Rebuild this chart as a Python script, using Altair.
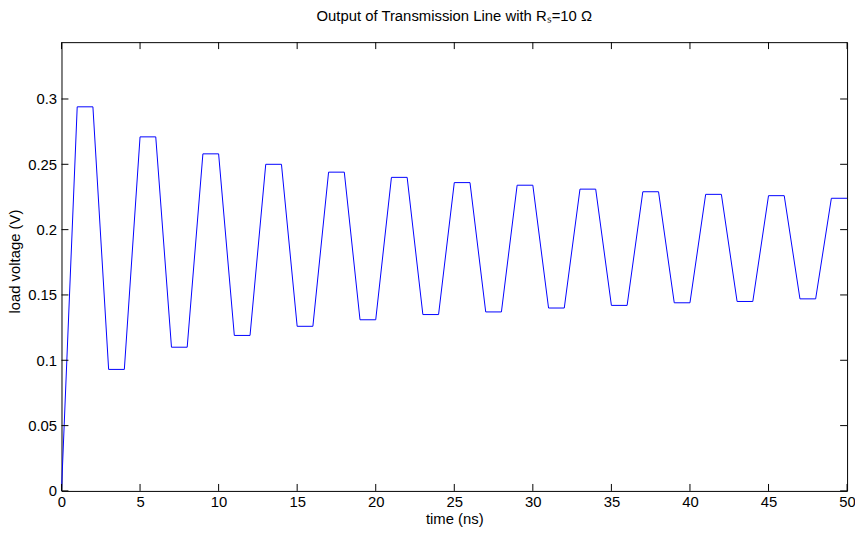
import altair as alt
import pandas as pd

# Corner points of the load-voltage waveform (time in ns, voltage in V)
time_ns = [0, 1, 2, 3, 4, 5, 6, 7, 8, 9, 10, 11, 12, 13, 14, 15, 16, 17, 18, 19, 20,
           21, 22, 23, 24, 25, 26, 27, 28, 29, 30, 31, 32, 33, 34, 35, 36, 37, 38, 39, 40,
           41, 42, 43, 44, 45, 46, 47, 48, 49, 50]
load_v = [0.0,
          0.294, 0.294, 0.093, 0.093,
          0.271, 0.271, 0.110, 0.110,
          0.258, 0.258, 0.119, 0.119,
          0.250, 0.250, 0.126, 0.126,
          0.244, 0.244, 0.131, 0.131,
          0.240, 0.240, 0.135, 0.135,
          0.236, 0.236, 0.137, 0.137,
          0.234, 0.234, 0.140, 0.140,
          0.231, 0.231, 0.142, 0.142,
          0.229, 0.229, 0.144, 0.144,
          0.227, 0.227, 0.145, 0.145,
          0.226, 0.226, 0.147, 0.147,
          0.224, 0.224]

x_ticks = [0, 5, 10, 15, 20, 25, 30, 35, 40, 45, 50]
y_ticks = [0, 0.05, 0.1, 0.15, 0.2, 0.25, 0.3]

W, H = 793, 453
TICK = 7
FONT = "Liberation Sans"
FS = 15

df = pd.DataFrame({"t": time_ns, "v": load_v})
xt = pd.DataFrame({"t": x_ticks})
yt = pd.DataFrame({"v": y_ticks})

xscale = alt.Scale(domain=[0, 50], nice=False, zero=False)
yscale = alt.Scale(domain=[0, 0.3435], nice=False, zero=False)

x_axis = alt.Axis(values=x_ticks, title="time (ns)", format="d", labelFlush=False,
                  labelPadding=4, titleY=33, titleBaseline="alphabetic")
y_axis = alt.Axis(values=y_ticks, title="load voltage (V)", format=".2~f",
                  titleX=-42, titleY=221, titleBaseline="alphabetic")

X = alt.X("t:Q", scale=xscale, axis=x_axis)
Y = alt.Y("v:Q", scale=yscale, axis=y_axis)

line = alt.Chart(df).mark_line(color="#0000ff", strokeWidth=1).encode(x=X, y=Y)

bottom_ticks = alt.Chart(xt).mark_rule(color="black", strokeWidth=1).encode(
    x=X, y=alt.value(H), y2=alt.value(H - TICK))
top_ticks = alt.Chart(xt).mark_rule(color="black", strokeWidth=1).encode(
    x=X, y=alt.value(0), y2=alt.value(TICK))
left_ticks = alt.Chart(yt).mark_rule(color="black", strokeWidth=1).encode(
    y=Y, x=alt.value(0), x2=alt.value(TICK))
right_ticks = alt.Chart(yt).mark_rule(color="black", strokeWidth=1).encode(
    y=Y, x=alt.value(W), x2=alt.value(W - TICK))

chart = alt.layer(line, bottom_ticks, top_ticks, left_ticks, right_ticks).properties(
    width=W, height=H,
    background="white",
    title=alt.TitleParams(text="Output of Transmission Line with Rₛ=10 Ω",
                          font=FONT, fontSize=FS, fontWeight="normal", color="black",
                          anchor="middle", baseline="alphabetic", offset=6),
    autosize=alt.AutoSizeParams(type="none"),
    padding={"left": 54, "top": 32, "right": 8, "bottom": 40},
).configure_view(
    stroke="black", strokeWidth=1
).configure_axis(
    grid=False, domain=False, ticks=False,
    labelFont=FONT, labelFontSize=FS, labelColor="black", labelPadding=5,
    titleFont=FONT, titleFontSize=FS, titleFontWeight="normal", titleColor="black",
)

chart.save("out.html", embed_options={"renderer": "svg", "actions": False})
